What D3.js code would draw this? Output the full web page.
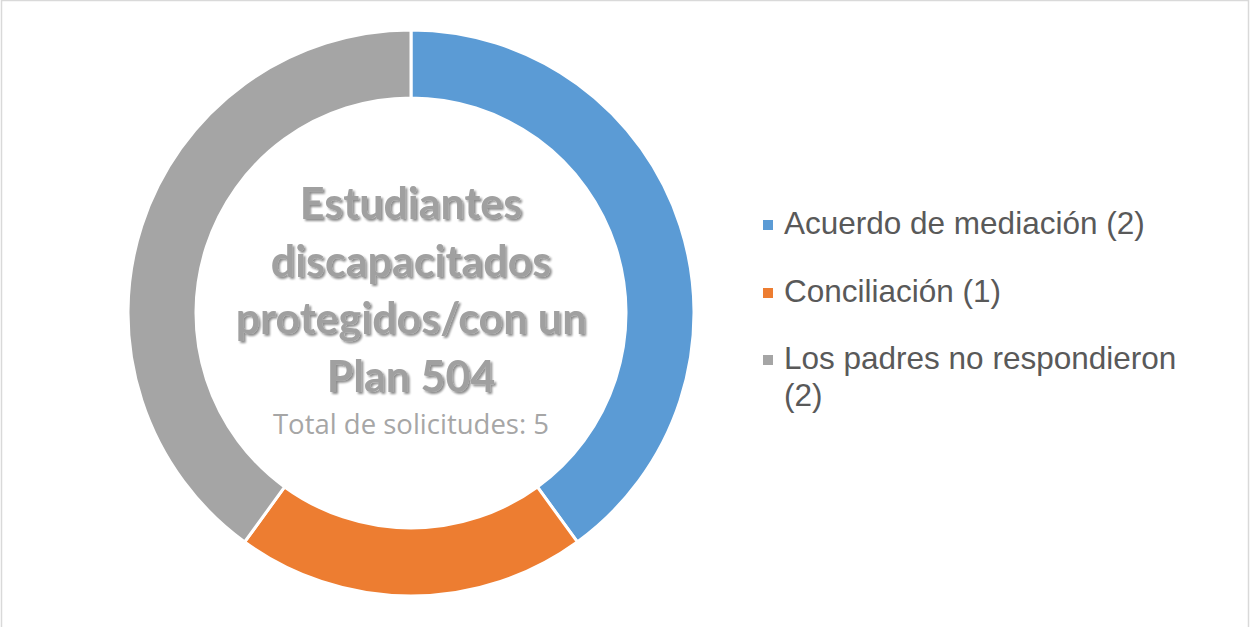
<!DOCTYPE html>
<html>
<head>
<meta charset="utf-8">
<script src="https://cdn.jsdelivr.net/npm/d3@7"></script>
<style>
  body { margin: 0; background: #fff; }
  svg { display: block; }
</style>
</head>
<body>
<div id="chart"></div>
<script>
// data
var categories = ["Acuerdo de mediación", "Conciliación", "Los padres no respondieron"];
var counts = [2, 1, 2];
var colors = ["#5B9BD5", "#ED7D31", "#A5A5A5"];
var centerTitle = ["Estudiantes", "discapacitados", "protegidos/con un", "Plan 504"];
var centerSub = "Total de solicitudes: 5";

var width = 1250, height = 627;
var cx = 411, cy = 313;
var outerR = 283, innerR = 215;

var svg = d3.select("#chart").append("svg")
  .attr("width", width)
  .attr("height", height);

// chart frame
svg.append("rect")
  .attr("x", 1.5)
  .attr("y", 0.5)
  .attr("width", width - 3)
  .attr("height", height + 10)
  .style("fill", "white")
  .style("stroke", "#D9D9D9")
  .style("stroke-width", 1.5);

var defs = svg.append("defs");
var shadow = defs.append("filter")
  .attr("id", "txtShadow")
  .attr("x", "-10%").attr("y", "-20%")
  .attr("width", "130%").attr("height", "150%");
shadow.append("feGaussianBlur")
  .attr("in", "SourceAlpha")
  .attr("stdDeviation", 1.3)
  .attr("result", "blur");
shadow.append("feOffset")
  .attr("dx", 1.5).attr("dy", 1.5)
  .attr("result", "off");
shadow.append("feComponentTransfer").attr("result", "sh")
  .append("feFuncA").attr("type", "linear").attr("slope", 0.45);
var merge = shadow.append("feMerge");
merge.append("feMergeNode").attr("in", "sh");
merge.append("feMergeNode").attr("in", "SourceGraphic");

var pie = d3.pie().sort(null).value(function (d) { return d; });
var arc = d3.arc().innerRadius(innerR).outerRadius(outerR);

var g = svg.append("g")
  .attr("transform", "translate(" + cx + "," + cy + ")");

g.selectAll("path.slice")
  .data(pie(counts))
  .enter().append("path")
  .attr("class", "slice")
  .attr("d", arc)
  .style("fill", function (d, i) { return colors[i]; })
  .style("stroke", "white")
  .style("stroke-width", 3);

// center label
var title = g.append("text")
  .attr("text-anchor", "middle")
  .style("font-family", "Lato, 'Open Sans', sans-serif")
  .style("font-weight", "bold")
  .style("font-size", "43px")
  .style("fill", "#A0A0A0")
  .attr("filter", "url(#txtShadow)");

title.selectAll("tspan")
  .data(centerTitle)
  .enter().append("tspan")
  .attr("x", 0)
  .attr("y", function (d, i) { return -94 + i * 57.5; })
  .text(function (d) { return d; });

g.append("text")
  .attr("text-anchor", "middle")
  .attr("x", 0)
  .attr("y", 121)
  .style("font-family", "'Open Sans', Lato, sans-serif")
  .style("font-size", "27.5px")
  .style("fill", "#A6A6A6")
  .text(centerSub);

// legend
var legendRows = [
  { lines: [categories[0] + " (" + counts[0] + ")"], y: 234 },
  { lines: [categories[1] + " (" + counts[1] + ")"], y: 302 },
  { lines: ["Los padres no respondieron", "(" + counts[2] + ")"], y: 369 }
];

var legend = svg.append("g");
var item = legend.selectAll("g.item")
  .data(legendRows)
  .enter().append("g")
  .attr("class", "item");

item.append("rect")
  .attr("x", 763)
  .attr("y", function (d) { return d.y - 14; })
  .attr("width", 10)
  .attr("height", 10)
  .style("fill", function (d, i) { return colors[i]; });

item.append("text")
  .style("font-family", "'Liberation Sans', Arial, sans-serif")
  .style("font-size", "31.5px")
  .style("fill", "#595959")
  .selectAll("tspan")
  .data(function (d) { return d.lines.map(function (l, j) { return { t: l, y: d.y + j * 37 }; }); })
  .enter().append("tspan")
  .attr("x", 784)
  .attr("y", function (d) { return d.y; })
  .text(function (d) { return d.t; });
</script>
</body>
</html>
